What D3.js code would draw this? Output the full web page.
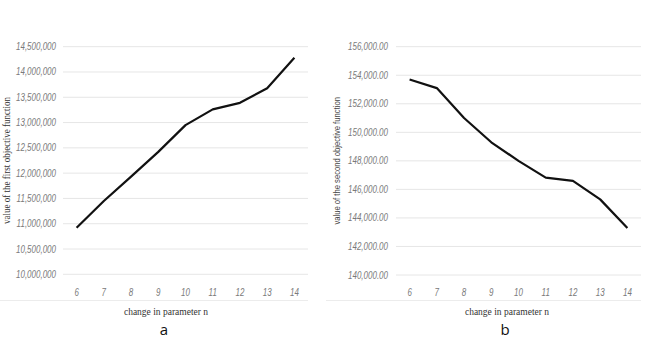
<!DOCTYPE html>
<html>
<head>
<meta charset="utf-8">
<script src="https://cdn.jsdelivr.net/npm/d3@7"></script>
<style>
  body { margin: 0; background: #fff; }
  .tick-lbl { font: italic 10px "Liberation Sans", "DejaVu Sans", sans-serif; fill: #7a7a7a; }
  .grid { stroke: #e6e6e6; stroke-width: 1px; }
  .line { fill: none; stroke: #111; stroke-width: 2.2px; stroke-linejoin: round; }
  .ttl-serif { font: 9.5px "Liberation Serif", serif; fill: #333; }
  .ttl-sans { font: 9px "Liberation Sans", sans-serif; fill: #444; }
  .panel { font: 15px "Open Sans", "Liberation Sans", sans-serif; fill: #111; }
</style>
</head>
<body>
<div id="chart"></div>
<script>
// x categories (parameter n)
const nValues = [6, 7, 8, 9, 10, 11, 12, 13, 14];

// panel a: first objective function
const firstObj = [10920000, 11450000, 11930000, 12420000, 12950000, 13260000, 13390000, 13680000, 14280000];
const firstTicks = [10000000, 10500000, 11000000, 11500000, 12000000, 12500000, 13000000, 13500000, 14000000, 14500000];

// panel b: second objective function
const secondObj = [153700, 153100, 151000, 149300, 148000, 146820, 146600, 145300, 143300];
const secondTicks = [140000, 142000, 144000, 146000, 148000, 150000, 152000, 154000, 156000];

const width = 648, height = 339;
const squeeze = 0.8; // narrow look of the original tick font

const svg = d3.select("#chart").append("svg")
  .attr("width", width)
  .attr("height", height);

function drawPanel({ x0, x1, labelX, yTop, yBot, values, ticks, fmt, yTitle, yTitleX, yTitleClass, yTitleSqueeze, titleCx, panelLabel, lineLeft, lineRight }) {
  const g = svg.append("g");

  const x = d3.scaleBand().domain(nValues).range([x0, x1]);
  const y = d3.scaleLinear().domain([ticks[0], ticks[ticks.length - 1]]).range([yBot, yTop]);

  // gridlines
  g.selectAll("line.grid")
    .data(ticks)
    .join("line")
    .attr("class", "grid")
    .attr("x1", x0).attr("x2", x1)
    .attr("y1", d => y(d)).attr("y2", d => y(d));

  // y tick labels
  g.selectAll("text.ylbl")
    .data(ticks)
    .join("text")
    .attr("class", "tick-lbl ylbl")
    .attr("transform", d => `translate(${labelX},${y(d)}) scale(${squeeze},1)`)
    .attr("dy", "0.35em")
    .attr("text-anchor", "end")
    .text(fmt);

  // x tick labels
  g.selectAll("text.xlbl")
    .data(nValues)
    .join("text")
    .attr("class", "tick-lbl xlbl")
    .attr("transform", d => `translate(${x(d) + x.bandwidth() / 2},296) scale(${squeeze},1)`)
    .attr("text-anchor", "middle")
    .text(d => d);

  // faint bottom border of the chart box
  g.append("line")
    .attr("x1", lineLeft).attr("x2", lineRight)
    .attr("y1", 300.5).attr("y2", 300.5)
    .attr("stroke", "#ececec");

  // data line
  const line = d3.line()
    .x((d, i) => x(nValues[i]) + x.bandwidth() / 2)
    .y(d => y(d));
  g.append("path").datum(values).attr("class", "line").attr("d", line);

  // axis titles
  g.append("text")
    .attr("class", yTitleClass)
    .attr("transform", `translate(${yTitleX},${(yTop + yBot) / 2}) rotate(-90) scale(${yTitleSqueeze},1)`)
    .attr("text-anchor", "middle")
    .text(yTitle);

  g.append("text")
    .attr("class", "ttl-serif")
    .attr("x", titleCx)
    .attr("y", 315)
    .attr("text-anchor", "middle")
    .text("change in parameter n");

  g.append("text")
    .attr("class", "panel")
    .attr("x", titleCx - 2)
    .attr("y", 335)
    .attr("text-anchor", "middle")
    .text(panelLabel);
}

drawPanel({
  x0: 63, x1: 308, labelX: 56, yTop: 46.7, yBot: 274.3,
  values: firstObj, ticks: firstTicks,
  fmt: d3.format(",.0f"),
  yTitle: "value of the first objective function", yTitleX: 10, yTitleClass: "ttl-serif", yTitleSqueeze: 0.95,
  titleCx: 166, panelLabel: "a", lineLeft: 0, lineRight: 308
});

drawPanel({
  x0: 396, x1: 641, labelX: 388, yTop: 46.7, yBot: 275,
  values: secondObj, ticks: secondTicks,
  fmt: d3.format(",.2f"),
  yTitle: "value of the second objective function", yTitleX: 340, yTitleClass: "ttl-sans", yTitleSqueeze: 0.85,
  titleCx: 507, panelLabel: "b", lineLeft: 326, lineRight: 641
});
</script>
</body>
</html>
